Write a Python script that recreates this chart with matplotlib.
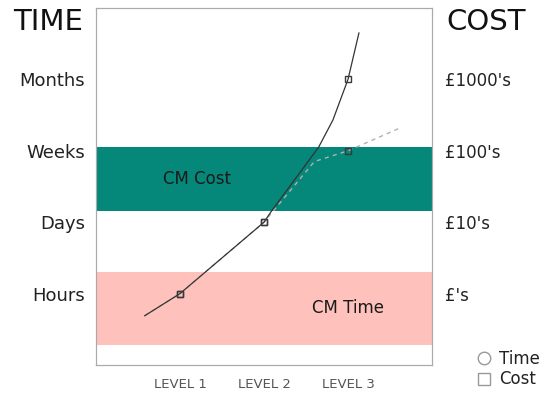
import matplotlib.pyplot as plt
from matplotlib.lines import Line2D

# levels along x, scale bands on y
levels = ['LEVEL 1', 'LEVEL 2', 'LEVEL 3']
level_pos = [1, 2, 3]
time_labels = ['Hours', 'Days', 'Weeks', 'Months']
cost_labels = ["£'s", "£10's", "£100's", "£1000's"]
scale_pos = [1, 2, 3, 4]

# curves
time_x = [0.58, 1.0, 1.3, 2.0, 2.08, 2.65, 2.82, 3.0, 3.13]
time_y = [0.69, 1.0, 1.3, 2.0, 2.14, 3.05, 3.43, 4.0, 4.65]
cost_x = [0.58, 1.0, 2.0, 2.6, 3.0, 3.62]
cost_y = [0.69, 1.0, 2.0, 2.85, 3.0, 3.32]

# marked points at each level
time_pts = [1, 2, 4]
cost_pts = [1, 2, 3]

cm_cost = (2.15, 3.05)
cm_time = (0.28, 1.30)

fig = plt.figure(figsize=(5.48, 4.0), dpi=100)
ax = fig.add_axes([96/548, 35/400, 336/548, 357/400])

ax.axhspan(cm_cost[0], cm_cost[1], color='#05877a', lw=0)
ax.axhspan(cm_time[0], cm_time[1], color='#ffc1bb', lw=0)

ax.plot(cost_x, cost_y, color='#b0b0b0', lw=1, ls=(0, (3, 3)))
ax.plot(time_x, time_y, color='#333333', lw=0.9)
ax.plot(level_pos, cost_pts, ls='none', marker='s', ms=5, mfc='none',
        mec='#3a3a3a', mew=1)
ax.plot(level_pos, time_pts, ls='none', marker='s', ms=5, mfc='none',
        mec='#3a3a3a', mew=1)

ax.set_xlim(0, 4)
ax.set_ylim(0, 5)
ax.set_xticks(level_pos)
ax.set_xticklabels(levels, fontsize=9.5, color='#555555')
ax.tick_params(axis='x', length=0, pad=9)
ax.set_yticks(scale_pos)
ax.set_yticklabels(time_labels, fontsize=13, color='#222222')
ax.tick_params(axis='y', length=0, pad=8)

ax2 = ax.twinx()
ax2.set_ylim(0, 5)
ax2.set_yticks(scale_pos)
ax2.set_yticklabels(cost_labels, fontsize=12, color='#222222')
ax2.tick_params(axis='y', length=0, pad=9)

for a in (ax, ax2):
    for s in a.spines.values():
        s.set_color('#aaaaaa')
        s.set_linewidth(0.8)

fig.text(48/548, 1 - 22/400, 'TIME', fontsize=21, ha='center', va='center', color='#111111')
fig.text(486/548, 1 - 22/400, 'COST', fontsize=21, ha='center', va='center', color='#111111')

ax.text(1.2, 2.6, 'CM Cost', fontsize=12, ha='center', va='center', color='#1a1a1a')
ax.text(3.0, 0.8, 'CM Time', fontsize=12, ha='center', va='center', color='#1a1a1a')

handles = [Line2D([], [], ls='none', marker='o', ms=9, mfc='none', mec='#999999'),
           Line2D([], [], ls='none', marker='s', ms=9, mfc='none', mec='#999999')]
fig.legend(handles, ['Time', 'Cost'], loc='lower left', bbox_to_anchor=(462/548, 0.0),
           frameon=False, fontsize=12, handletextpad=0.3, labelspacing=0.15,
           borderpad=0.2, handlelength=1.2, labelcolor='#222222')

fig.savefig('out.png', dpi=100)
